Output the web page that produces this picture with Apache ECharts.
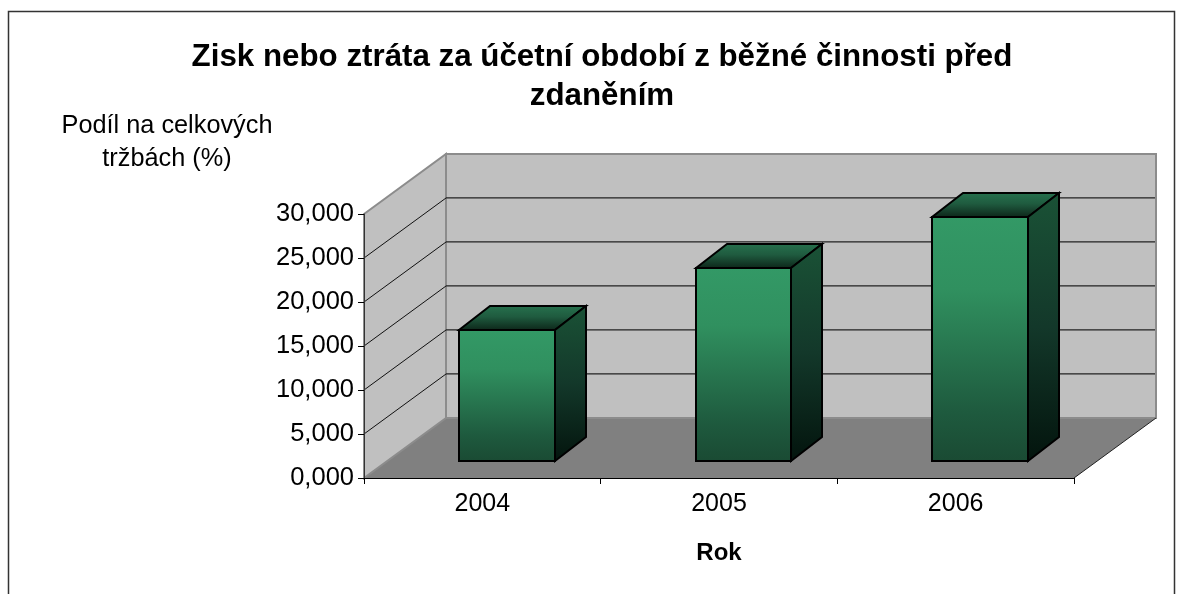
<!DOCTYPE html>
<html>
<head>
<meta charset="utf-8">
<style>html,body{margin:0;padding:0;background:#fff;overflow:hidden}#c{width:1183px;height:594px}</style>
<script src="https://cdn.jsdelivr.net/npm/echarts@6/dist/echarts.min.js"></script>
</head>
<body>
<div id="c"></div>
<script>
const categories = ['2004', '2005', '2006'];
const values = [14.9, 21.9, 27.7];
const yTicks = [0, 5, 10, 15, 20, 25, 30];
const titleText = 'Zisk nebo ztráta za účetní období z běžné činnosti před\nzdaněním';
const yName = 'Podíl na celkových\ntržbách (%)';
const xName = 'Rok';

const FONT = '"Liberation Sans", Arial, sans-serif';
const DX = 82, DY = 60;       // wall depth
const BX = 24.5, BY = 17;     // bar front offset from the front axis
const CX = 31, CY = 24;       // bar depth
const BAR_RATIO = 0.405;

function grad(stops) {
  return {type: 'linear', x: 0, y: 0, x2: 0, y2: 1,
    colorStops: stops.map(s => ({offset: s[0], color: s[1]}))};
}
const poly = (pts, style, z2) => ({type: 'polygon', shape: {points: pts}, style, z2: z2 || 0});

const chart = echarts.init(document.getElementById('c'), null, {renderer: 'canvas'});
chart.setOption({
  backgroundColor: '#fff',
  animation: false,
  title: {
    text: titleText, left: 597, top: 33, textAlign: 'center',
    textStyle: {fontFamily: FONT, fontSize: 31.3, fontWeight: 'bold', color: '#000', lineHeight: 39}
  },
  graphic: [{
    type: 'rect', silent: true, z: -1,
    shape: {x: 8.5, y: 11.5, width: 1166, height: 640},
    style: {fill: '#fff', stroke: '#333', lineWidth: 1.5}
  }],
  grid: {left: 364, top: 214, width: 710, height: 264, containLabel: false},
  xAxis: {
    type: 'category', data: categories, boundaryGap: true, z: 10,
    name: xName, nameLocation: 'middle', nameGap: 63,
    nameTextStyle: {fontFamily: FONT, fontSize: 24, fontWeight: 'bold', color: '#000'},
    axisLine: {show: true, lineStyle: {color: '#000', width: 1}},
    axisTick: {show: true, alignWithLabel: false, length: 6, lineStyle: {color: '#000'}},
    axisLabel: {fontFamily: FONT, fontSize: 25, color: '#000', margin: 14},
    splitLine: {show: false}
  },
  yAxis: {
    type: 'value', min: 0, max: 30, interval: 5, z: 10,
    name: yName, nameLocation: 'end', nameGap: 38,
    nameTextStyle: {fontFamily: FONT, fontSize: 25.3, color: '#000', align: 'center', verticalAlign: 'bottom', lineHeight: 33, padding: [0, 394, 0, 0]},
    axisLine: {show: true, lineStyle: {color: '#333', width: 1}},
    axisTick: {show: true, length: 6, lineStyle: {color: '#000'}},
    axisLabel: {fontFamily: FONT, fontSize: 25.5, color: '#000', margin: 10,
      formatter: v => v.toFixed(3).replace('.', ',')},
    splitLine: {show: false}
  },
  series: [
    {
      name: 'walls', type: 'custom', z: 1, silent: true, data: [[0, 0]],
      renderItem(params, api) {
        const l = params.coordSys.x, r = l + params.coordSys.width;
        const y0 = api.coord([0, 0])[1], y1 = api.coord([0, 30])[1];
        return {type: 'group', children: [
          poly([[l + DX, y0 - DY], [r + DX, y0 - DY], [r, y0], [l, y0]], {fill: '#808080'}),
          poly([[l + DX, y1 - DY], [r + DX, y1 - DY], [r + DX, y0 - DY], [l + DX, y0 - DY]],
            {fill: '#c0c0c0', stroke: '#8c8c8c', lineWidth: 2}),
          poly([[l, y1], [l + DX, y1 - DY], [l + DX, y0 - DY], [l, y0]],
            {fill: '#c0c0c0', stroke: '#8c8c8c', lineWidth: 2}),
          {type: 'line', shape: {x1: r, y1: y0, x2: r + DX, y2: y0 - DY},
            style: {stroke: '#222', lineWidth: 1}}
        ]};
      }
    },
    {
      name: 'gridlines', type: 'custom', z: 2, silent: true,
      data: yTicks.filter(v => v > 0 && v < 30).map(v => [0, v]),
      renderItem(params, api) {
        const l = params.coordSys.x, r = l + params.coordSys.width;
        const y = Math.round(api.coord([0, api.value(1)])[1]);
        return {type: 'group', children: [
          {type: 'line', shape: {x1: l, y1: y, x2: l + DX, y2: y - DY}, style: {stroke: '#111', lineWidth: 1}},
          {type: 'line', shape: {x1: l + DX, y1: y - DY - 0.2, x2: r + DX - 1, y2: y - DY - 0.2}, style: {stroke: '#222', lineWidth: 1.3}}
        ]};
      }
    },
    {
      name: 'Podíl', type: 'custom', z: 3,
      data: categories.map((c, i) => [i, values[i]]),
      encode: {x: 0, y: 1},
      renderItem(params, api) {
        const i = api.value(0), v = api.value(1);
        const base = api.coord([i, 0]), top = api.coord([i, v]);
        const w = api.size([1, 0])[0] * BAR_RATIO;
        const x0 = Math.round(base[0] + BX - w / 2), x1 = Math.round(base[0] + BX + w / 2);
        const yb = Math.round(base[1] - BY), yt = Math.round(top[1] - BY);
        const line = {stroke: '#000', lineWidth: 2, lineJoin: 'miter'};
        return {type: 'group', children: [
          poly([[x0, yt], [x0 + CX, yt - CY], [x1 + CX, yt - CY], [x1, yt]],
            Object.assign({fill: grad([[0, '#27724e'], [0.45, '#1f5b3f'], [1, '#0c2418']])}, line)),
          poly([[x1, yt], [x1 + CX, yt - CY], [x1 + CX, yb - CY], [x1, yb]],
            Object.assign({fill: grad([[0, '#1a5236'], [0.5, '#13382a'], [1, '#03140d']])}, line)),
          poly([[x0, yt], [x1, yt], [x1, yb], [x0, yb]],
            Object.assign({fill: grad([[0, '#339966'], [0.3, '#30905f'], [0.8, '#1e5a3e'], [1, '#1a4a33']])}, line))
        ]};
      }
    }
  ]
});
</script>
</body>
</html>
